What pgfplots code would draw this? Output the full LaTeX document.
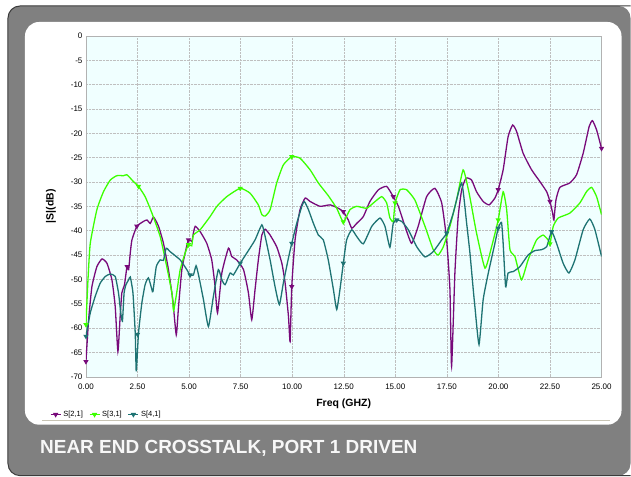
\documentclass[border=0pt]{standalone}
\usepackage{pgfplots}
\pgfplotsset{compat=1.18}
\usepackage{fontspec}
\setmainfont{Liberation Sans}
\definecolor{cpurple}{RGB}{120,10,122}
\definecolor{cgreen}{RGB}{60,255,0}
\definecolor{cteal}{RGB}{30,115,115}
\definecolor{bgc}{RGB}{240,255,255}
\definecolor{framegray}{RGB}{128,128,128}
\definecolor{framedark}{RGB}{60,60,60}
\definecolor{beige}{RGB}{200,196,180}
\begin{document}
\begin{tikzpicture}[x=1pt,y=1pt]
\fill[white] (0,0) rectangle (631,477);
\fill[framegray, rounded corners=12pt] (631,1) -- (8,1) -- (8,471) -- (631,471) -- cycle;
\draw[framedark, line width=1pt, rounded corners=12pt] (631,1) -- (8,1) -- (8,471) -- (631,471);
\fill[white, rounded corners=14pt] (25,52) rectangle (622,455);
\draw[beige, line width=1.5pt] (42,56) -- (610,56);
\node[anchor=base west, inner sep=0pt, text=white!94!gray, font=\fontsize{19}{22}\selectfont\bfseries] at (40,23) {NEAR END CROSSTALK, PORT 1 DRIVEN};
\begin{axis}[
  at={(86pt,100pt)}, anchor=south west,
  scale only axis, width=516pt, height=341pt,
  xmin=0, xmax=25, ymin=-70, ymax=0,
  xtick={0,2.5,...,25}, ytick={-70,-65,...,0},
  xticklabel style={/pgf/number format/.cd, fixed, fixed zerofill, precision=2},
  xticklabel shift=4pt,
  /pgf/number format/assume math mode=true,
  ticklabel style={font=\fontsize{8}{9}\selectfont},
  major tick length=0pt,
  grid=major, grid style={densely dotted, gray!50},
  axis background/.style={fill=bgc},
  axis line style={gray!60},
  xlabel={Freq (GHZ)}, ylabel={|S|(dB)},
  label style={font=\fontsize{10.5}{12}\selectfont\bfseries},
  xlabel style={at={(axis description cs:0.5,-0.079)}, anchor=center},
  ylabel style={at={(axis description cs:-0.068,0.5)}, anchor=center},
  legend image code/.code={\draw[mark repeat=2,mark phase=2,#1] plot coordinates {(0pt,0pt) (5pt,0pt) (10pt,0pt)};},
  legend style={at={(axis description cs:-0.07,-0.111)}, anchor=west, draw=none, fill=none,
    font=\fontsize{7.5}{9}\selectfont, legend columns=3, inner sep=0pt,
    /tikz/every even column/.append style={column sep=4pt}},
  every axis plot/.append style={line width=1.3pt},
  mark options={rotate=180, scale=0.9, solid},
]
\addlegendimage{cpurple, line width=1.3pt, mark=triangle*, mark options={rotate=180,scale=0.9}}
\addlegendentry{S[2,1]}
\addlegendimage{cgreen, line width=1.3pt, mark=triangle*, mark options={rotate=180,scale=0.9}}
\addlegendentry{S[3,1]}
\addlegendimage{cteal, line width=1.3pt, mark=triangle*, mark options={rotate=180,scale=0.9}}
\addlegendentry{S[4,1]}
% S[2,1]
\addplot[cpurple, no marks, forget plot, smooth, tension=0.3] coordinates {
(0,-66.9) (0.13,-58.3) (0.29,-51.5) (0.53,-47.4) (0.78,-45.8) (1.02,-46.7) (1.26,-50.1) (1.42,-55.6) (1.55,-64.8) (1.66,-57.6) (1.74,-52.8) (1.87,-51.1) (1.99,-47.4) (2.07,-48) (2.15,-44.6) (2.23,-41.9) (2.47,-39.1) (2.79,-38.1) (2.96,-37.8) (3.12,-38.5) (3.28,-37.2) (3.52,-39.1) (3.76,-42.6) (4.0,-48) (4.21,-54.2) (4.38,-61.4) (4.49,-55.6) (4.65,-48) (4.81,-44.6) (4.97,-41.9) (5.14,-42.2) (5.21,-40.5) (5.3,-39.1) (5.54,-40.2) (5.86,-42.6) (6.1,-46) (6.25,-51) (6.38,-56.9) (6.59,-48.7) (6.91,-43.6) (7.07,-45.3) (7.31,-46) (7.64,-48) (7.88,-52.8) (8.04,-58.3) (8.2,-52.1) (8.36,-46) (8.53,-40.9) (8.69,-39.7) (8.93,-40.9) (9.25,-43.3) (9.5,-46.7) (9.66,-50.8) (9.82,-57.6) (9.9,-62.8) (9.98,-51.5) (10.14,-41.9) (10.38,-35.7) (10.63,-33.3) (10.87,-34) (11.35,-35) (11.84,-34.7) (12.24,-35.4) (12.48,-36.1) (12.72,-37.8) (12.89,-39.5) (13.13,-38.5) (13.45,-37.1) (13.77,-34) (14.18,-31.6) (14.58,-30.9) (14.9,-33) (15.15,-35) (15.47,-39.1) (15.79,-42.6) (16.11,-39.1) (16.52,-33) (16.92,-31.3) (17.25,-34.3) (17.49,-41.9) (17.65,-52.1) (17.73,-67.9) (17.89,-48.7) (18.05,-37.1) (18.22,-31.6) (18.43,-29.2) (18.7,-29.6) (18.94,-32) (19.26,-34) (19.55,-34.7) (19.83,-33.3) (19.99,-31.6) (20.23,-27.5) (20.47,-20.7) (20.69,-18.3) (20.88,-19.6) (21.2,-24.1) (21.61,-27.5) (22.01,-29.9) (22.34,-32) (22.5,-34) (22.63,-36.4) (22.69,-37.8) (22.79,-33.7) (22.98,-31.1) (23.46,-30.2) (23.79,-28.5) (24.11,-24.1) (24.4,-18.6) (24.56,-17.4) (24.76,-19.3) (25,-23.1)
};
% S[3,1]
\addplot[cgreen, no marks, forget plot, smooth, tension=0.3] coordinates {
(0,-59.3) (0.1,-50) (0.21,-42.6) (0.53,-35.7) (0.85,-32) (1.18,-29.6) (1.5,-28.7) (1.82,-28.7) (1.98,-28.5) (2.15,-29.2) (2.3,-29.9) (2.55,-30.9) (2.87,-33) (3.2,-36.4) (3.6,-41.2) (3.92,-47.4) (4.17,-52.8) (4.25,-56.4) (4.4,-52.8) (4.57,-48) (4.81,-44.6) (4.97,-42.9) (5.13,-43.1) (5.21,-40.9) (5.54,-39.8) (6.02,-37.1) (6.35,-35) (6.83,-33) (7.48,-31.3) (7.96,-32.3) (8.36,-34.7) (8.53,-36.7) (8.69,-37) (8.93,-35.7) (9.25,-30.2) (9.57,-26.5) (9.98,-24.8) (10.38,-25.1) (10.87,-27.5) (11.27,-30.2) (11.75,-32.8) (12.16,-35.4) (12.48,-38.2) (12.8,-35.7) (13.13,-35) (13.61,-35.4) (13.94,-34.3) (14.34,-33) (14.58,-34.3) (14.74,-37.4) (14.9,-38.1) (14.99,-34.3) (15.23,-31.6) (15.55,-31.6) (15.95,-33.7) (16.44,-39.1) (16.84,-43.9) (17.08,-45) (17.33,-43.3) (17.65,-39.1) (17.97,-33.7) (18.29,-27.5) (18.54,-31.5) (18.7,-35) (18.94,-40.5) (19.35,-47.7) (19.67,-43.3) (19.99,-37.8) (20.23,-32) (20.4,-35.7) (20.56,-43.9) (20.8,-45.3) (21.12,-50.1) (21.44,-46) (21.85,-41.9) (22.17,-40.9) (22.41,-41.9) (22.5,-42.7) (22.66,-39.1) (22.9,-37.4) (23.46,-36.4) (23.95,-34.3) (24.27,-32) (24.52,-31.1) (24.76,-33) (25,-36.7)
};
% S[4,1]
\addplot[cteal, no marks, forget plot, smooth, tension=0.3] coordinates {
(0,-61.7) (0.21,-56.9) (0.45,-53.5) (0.69,-50.8) (0.94,-49.4) (1.18,-48.9) (1.42,-49.4) (1.58,-52.8) (1.69,-56.9) (1.77,-58.6) (1.85,-52.8) (1.94,-51.1) (2.07,-50.1) (2.15,-49.5) (2.28,-52.8) (2.39,-61) (2.44,-68.9) (2.55,-61) (2.71,-54.9) (2.87,-51.1) (3.03,-49.7) (3.2,-52.1) (3.25,-52.5) (3.41,-47.4) (3.6,-46) (3.76,-46.1) (3.89,-43.6) (4.08,-44.3) (4.57,-46) (4.89,-48) (5.05,-49.1) (5.21,-49.1) (5.34,-47.2) (5.46,-49.1) (5.7,-54.2) (5.94,-59.7) (6.18,-53.5) (6.42,-48) (6.59,-50.1) (6.75,-51.1) (6.99,-48.7) (7.15,-49.1) (7.48,-46.7) (7.8,-44.6) (8.2,-41.9) (8.53,-38.8) (8.69,-41.2) (8.93,-46) (9.17,-51.5) (9.38,-55.2) (9.57,-50.8) (9.82,-45.6) (9.98,-42.6) (10.22,-38.5) (10.47,-35) (10.59,-34) (10.79,-35.7) (11.03,-38.5) (11.27,-40.9) (11.51,-41.9) (11.75,-46) (12.0,-52.1) (12.16,-56.2) (12.32,-52) (12.48,-46.7) (12.64,-41.9) (12.89,-39.8) (13.13,-41.2) (13.45,-42.7) (13.86,-39.1) (14.26,-37.4) (14.5,-39.1) (14.74,-43.4) (14.9,-38.5) (15.07,-37.8) (15.31,-38.1) (15.63,-39.8) (16.04,-43.3) (16.44,-45.4) (16.84,-44.3) (17.25,-41.9) (17.49,-40.5) (17.81,-36.4) (18.22,-30.2) (18.46,-38.5) (18.62,-44.6) (18.78,-52.1) (18.86,-55.6) (19.06,-63.4) (19.26,-54.2) (19.51,-48.7) (19.83,-42.6) (19.99,-39.5) (20.15,-38.3) (20.23,-42.6) (20.35,-51.5) (20.47,-48.7) (20.72,-48.4) (21.04,-47.4) (21.44,-45) (21.77,-44.1) (22.09,-43.9) (22.34,-43.3) (22.58,-40.2) (22.82,-42.6) (23.14,-46.7) (23.42,-48.7) (23.71,-46) (24.11,-39.8) (24.43,-37.6) (24.68,-39.8) (25,-45.3)
};
% markers
\addplot[cpurple, only marks, mark=triangle*, forget plot] coordinates {
(0,-66.9) (2.0,-47.4) (2.47,-39.1) (4.97,-41.9) (9.98,-51.5) (12.48,-36.1) (14.9,-33) (19.99,-31.6) (22.5,-34) (25,-23.1)};
\addplot[cgreen, only marks, mark=triangle*, forget plot] coordinates {
(0,-59.3) (2.55,-30.9) (4.97,-42.9) (7.48,-31.3) (9.98,-24.8) (12.48,-38.2) (14.99,-34.3) (19.99,-37.8) (22.5,-42.7)};
\addplot[cteal, only marks, mark=triangle*, forget plot] coordinates {
(0,-61.7) (2.5,-61.3) (5.05,-49.1) (7.48,-46.7) (9.98,-42.6) (12.48,-46.7) (15.07,-37.8) (17.49,-40.5) (19.99,-39.5) (22.58,-40.2)};
\end{axis}
\end{tikzpicture}
\end{document}
